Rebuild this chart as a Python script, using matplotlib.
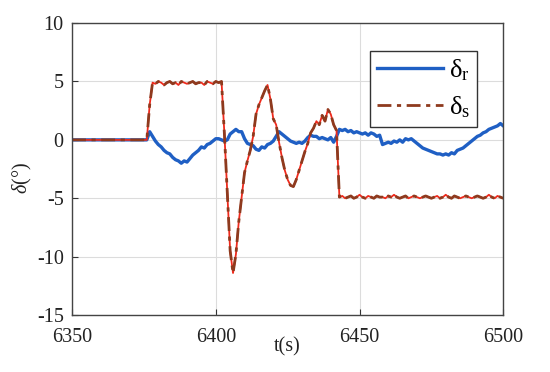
import numpy as np
import matplotlib
matplotlib.use("Agg")
import matplotlib.pyplot as plt

plt.rcParams["font.family"] = ["Liberation Serif", "DejaVu Serif"]
plt.rcParams["mathtext.fontset"] = "custom"
plt.rcParams["mathtext.rm"] = "Liberation Serif"
plt.rcParams["mathtext.it"] = "Liberation Serif:italic"
plt.rcParams["axes.unicode_minus"] = False

# time axis, 1 s steps
t = np.arange(6350, 6501)

# delta_r (blue)
d_r = (
    [0.0] * 27                                                         # 6350-6376
    + [0.7, 0.3, -0.1, -0.4, -0.6, -0.9, -1.1, -1.2, -1.5, -1.7]       # 6377-6386
    + [-1.8, -2.0, -1.8, -1.9, -1.6, -1.3, -1.1, -0.9, -0.6, -0.7]     # 6387-6396
    + [-0.4, -0.3, -0.1, 0.1, 0.1, 0.0, -0.1, 0.0, 0.5, 0.7]           # 6397-6406
    + [0.9, 0.7, 0.7, 0.1, -0.3, -0.4, -0.5, -0.8, -0.9, -0.6]         # 6407-6416
    + [-0.7, -0.4, -0.3, -0.1, 0.3, 0.7, 0.5, 0.3, 0.1, -0.1]          # 6417-6426
    + [-0.2, -0.3, -0.2, -0.3, -0.1, 0.2, 0.4, 0.3, 0.3, 0.1]          # 6427-6436
    + [0.2, 0.1, 0.0, 0.2, -0.2, 0.3, 0.9, 0.8, 0.9, 0.7]              # 6437-6446
    + [0.8, 0.6, 0.7, 0.6, 0.5, 0.6, 0.4, 0.6, 0.5, 0.3]               # 6447-6456
    + [0.4, -0.4, -0.3, -0.2, -0.3, -0.1, -0.2, 0.0, -0.2, 0.1]        # 6457-6466
    + [0.0, 0.1, -0.1, -0.3, -0.5, -0.7, -0.8, -0.9, -1.0, -1.1]       # 6467-6476
    + [-1.2, -1.2, -1.3, -1.2, -1.3, -1.1, -1.2, -0.9, -0.8, -0.7]     # 6477-6486
    + [-0.5, -0.3, -0.1, 0.1, 0.3, 0.4, 0.6, 0.7, 0.9, 1.0]            # 6487-6496
    + [1.1, 1.2, 1.4, 1.2]                                             # 6497-6500
)

# delta_s (red / dash-dot)
d_s = (
    [0.0] * 27                                                         # 6350-6376
    + [3.0]                                                            # 6377
    + [4.9, 4.8, 5.0, 4.9, 4.7, 4.9, 5.0, 4.8, 4.9, 4.7]               # 6378-6387
    + [5.0, 4.9, 4.8, 4.9, 5.0, 4.8, 4.9, 4.9, 4.7, 5.0]               # 6388-6397
    + [4.9, 4.8, 5.0, 4.9, 5.0]                                        # 6398-6402
    + [0.5, -4.5, -9.5, -11.4, -9.8, -7.0, -4.9, -2.8, -1.8, -0.9]     # 6403-6412
    + [0.3, 2.2, 3.0, 3.6, 4.2, 4.7, 3.5, 1.8, 1.3, -0.2]              # 6413-6422
    + [-1.5, -2.6, -3.4, -3.9, -4.0, -3.4, -2.6, -1.8, -1.0, -0.3]     # 6423-6432
    + [0.6, 1.0, 1.6, 1.3, 2.1, 1.6, 2.6, 2.2, 1.3, 0.8]               # 6433-6442
    + [-4.9, -4.8, -5.0, -4.9, -4.8, -5.0, -4.9, -4.7, -4.9, -5.0]     # 6443-6452
    + [-4.8, -4.9, -5.0, -4.8, -4.9, -4.9, -5.0, -4.8, -4.9, -4.7]     # 6453-6462
    + [-4.9, -5.0, -4.9, -4.8, -5.0, -4.9, -4.8, -4.9, -5.0, -4.9]     # 6463-6472
    + [-4.8, -4.9, -5.0, -4.9, -4.8, -5.0, -4.9, -4.7, -4.9, -5.0]     # 6473-6482
    + [-4.8, -4.9, -5.0, -4.9, -4.8, -4.9, -5.0, -4.9, -4.8, -4.9]     # 6483-6492
    + [-5.0, -4.9, -4.7, -4.9, -5.0, -4.8, -4.9, -5.0]                 # 6493-6500
)

fig = plt.figure(figsize=(5.5, 3.72), dpi=100)
ax = fig.add_axes([0.131, 0.153, 0.784, 0.785])

ax.plot(t, d_r, color="#1f5fc4", lw=2.4, label=r"$\mathrm{\delta_r}$")
ax.plot(t, d_s, color="#ee2a1c", lw=1.3)
ax.plot(t, d_s, color="#8e3a1e", lw=2.0, ls=(0, (5, 2, 1.5, 2)),
        label=r"$\mathrm{\delta_s}$")

ax.set_xlim(6350, 6500)
ax.set_ylim(-15, 10)
ax.set_xticks([6350, 6400, 6450, 6500])
ax.set_yticks([-15, -10, -5, 0, 5, 10])
ax.grid(True, color="#dcdcdc", lw=0.8)
ax.tick_params(direction="in", labelsize=14.5, length=4, colors="#333333",
               labelcolor="#222222")
ax.tick_params(axis="x", pad=9)
ax.tick_params(axis="y", pad=6)
for s in ax.spines.values():
    s.set_color("#444444")
    s.set_linewidth(1.0)

ax.set_xlabel("t(s)", fontsize=14.5, color="#222222")
ax.xaxis.set_label_coords(0.5, -0.075)
ax.set_ylabel(r"$\it{\delta}$(°)", fontsize=14.5, color="#222222")
ax.yaxis.set_label_coords(-0.088, 0.47)

leg = ax.legend(loc="upper right", bbox_to_anchor=(0.939, 0.906), fontsize=19,
                handlelength=2.5, fancybox=False, framealpha=1,
                edgecolor="#333333", borderpad=0.25, labelspacing=0.45,
                handletextpad=0.25, borderaxespad=0)
leg.get_frame().set_linewidth(1.0)

fig.savefig("out.png", dpi=100)
